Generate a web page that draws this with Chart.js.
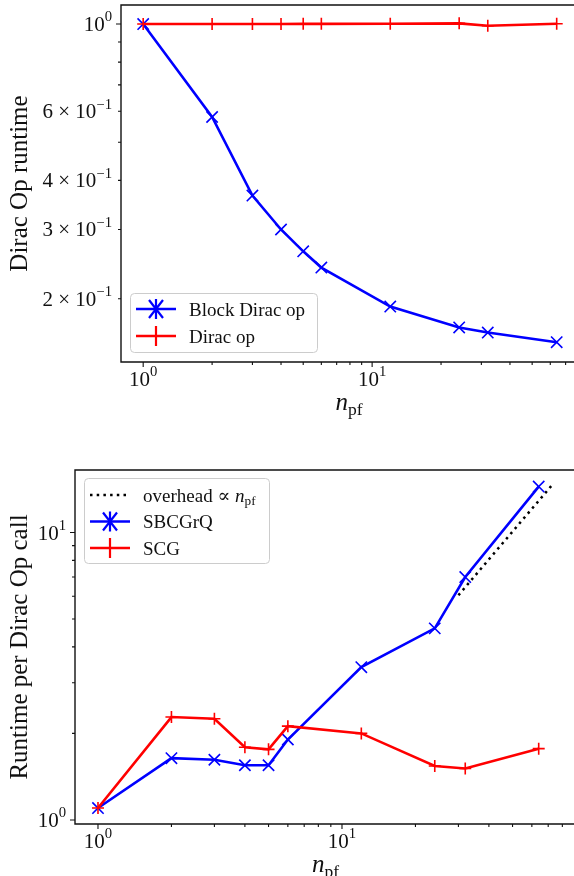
<!DOCTYPE html>
<html>
<head>
<meta charset="utf-8">
<script src="https://cdn.jsdelivr.net/npm/chart.js@4.4.1/dist/chart.umd.min.js"></script>
<style>
  html, body { margin: 0; padding: 0; background: #fff; }
  body { width: 574px; height: 876px; overflow: hidden; position: relative; }
  canvas { position: absolute; left: 0; }
  #topChart { top: 0; }
  #bottomChart { top: 440px; }
</style>
</head>
<body>
<canvas id="topChart" width="600" height="440"></canvas>
<canvas id="bottomChart" width="600" height="436"></canvas>
<script>
// ---- data ----
const nPf = [1, 2, 3, 4, 5, 6, 12, 24, 32, 64];

// top panel: Dirac op runtime (normalised)
const blockDiracOp = [1.0, 0.58, 0.366, 0.30, 0.264, 0.240, 0.191, 0.169, 0.164, 0.155];
const diracOp      = [1.0, 1.0, 1.0, 1.0, 1.001, 1.001, 1.002, 1.004, 0.99, 1.002];

// bottom panel: runtime per Dirac op call
const sbcgrq = [1.10, 1.64, 1.62, 1.55, 1.55, 1.905, 3.40, 4.64, 7.0, 14.45];
const scg    = [1.10, 2.28, 2.25, 1.79, 1.76, 2.12, 2.00, 1.54, 1.51, 1.77];
const overheadN   = [30, 72];
const overheadVal = [6.05, 14.5];

// ticks
const xMajorTicks = [1, 10];
const xMajorLabels = ['10^0', '10^1'];
const xMinorTicks = [2, 3, 4, 5, 6, 7, 8, 9, 20, 30, 40, 50, 60, 70, 80, 90];

const topYMajorTicks = [1];
const topYMinorTicks = [0.2, 0.3, 0.4, 0.5, 0.6, 0.7, 0.8, 0.9];
const topYLabelValues = [0.2, 0.3, 0.4, 0.6, 1];
const topYLabels = ['2 × 10^−1', '3 × 10^−1', '4 × 10^−1', '6 × 10^−1', '10^0'];

const botYMajorTicks = [1, 10];
const botYMinorTicks = [2, 3, 4, 5, 6, 7, 8, 9];
const botYLabelValues = [1, 10];
const botYLabels = ['10^0', '10^1'];

const FAM = '"Liberation Serif", "DejaVu Serif", serif';
const BLUE = '#0000ff', RED = '#ff0000';

function pts(xs, ys) { return xs.map((x, i) => ({ x: x, y: ys[i] })); }

// "6 × 10^−1" -> segments, superscript after ^
function parseSci(s) {
  const i = s.indexOf('^');
  if (i < 0) return [{ t: s }];
  return [{ t: s.slice(0, i) }, { t: s.slice(i + 1), sup: true }];
}

function segFont(seg, size) {
  const sz = (seg.sup || seg.sub) ? size * 0.7 : size;
  return (seg.it ? 'italic ' : '') + sz + 'px ' + FAM;
}

function drawRich(ctx, segs, x, y, align, size) {
  let total = 0;
  const widths = segs.map(s => { ctx.font = segFont(s, size); const w = ctx.measureText(s.t).width; total += w; return w; });
  let cx = align === 'center' ? x - total / 2 : align === 'right' ? x - total : x;
  ctx.textAlign = 'left';
  ctx.textBaseline = 'alphabetic';
  segs.forEach((s, i) => {
    ctx.font = segFont(s, size);
    let dy = 0;
    if (s.sup) dy = -0.46 * size;
    if (s.sub) dy = 0.2 * size;
    ctx.fillText(s.t, cx, y + dy);
    cx += widths[i];
  });
}

const NPF = [{ t: 'n', it: true }, { t: 'pf', sub: true }];

function framePlugin(cfg) {
  return {
    id: 'frame',
    afterDatasetsDraw(chart) {
      const ctx = chart.ctx;
      const a = chart.chartArea;
      const xs = chart.scales.x, ys = chart.scales.y;
      const W = chart.width;
      ctx.save();
      ctx.strokeStyle = '#111';
      ctx.fillStyle = '#111';
      ctx.lineWidth = 1.4;
      ctx.beginPath();
      ctx.moveTo(W, a.top); ctx.lineTo(a.left, a.top); ctx.lineTo(a.left, a.bottom); ctx.lineTo(W, a.bottom);
      ctx.stroke();

      ctx.lineWidth = 1.1;
      ctx.beginPath();
      xMajorTicks.forEach(v => { const p = xs.getPixelForValue(v); ctx.moveTo(p, a.bottom); ctx.lineTo(p, a.bottom + 5); });
      xMinorTicks.forEach(v => { if (v > xs.max) return; const p = xs.getPixelForValue(v); ctx.moveTo(p, a.bottom); ctx.lineTo(p, a.bottom + 3); });
      cfg.yMajor.forEach(v => { const p = ys.getPixelForValue(v); ctx.moveTo(a.left, p); ctx.lineTo(a.left - 5, p); });
      cfg.yMinor.forEach(v => { const p = ys.getPixelForValue(v); ctx.moveTo(a.left, p); ctx.lineTo(a.left - 3, p); });
      ctx.stroke();

      // tick labels
      xMajorTicks.forEach((v, i) => {
        drawRich(ctx, parseSci(xMajorLabels[i]), xs.getPixelForValue(v), a.bottom + 23.5, 'center', 21);
      });
      cfg.yLabelValues.forEach((v, i) => {
        drawRich(ctx, parseSci(cfg.yLabels[i]), a.left - 9, ys.getPixelForValue(v) + 7, 'right', 21);
      });

      // axis titles
      drawRich(ctx, NPF, (a.left + a.right) / 2, a.bottom + 48, 'center', 25);
      ctx.save();
      ctx.translate(27, (a.top + a.bottom) / 2);
      ctx.rotate(-Math.PI / 2);
      ctx.font = '25px ' + FAM;
      ctx.textAlign = 'center';
      ctx.textBaseline = 'alphabetic';
      ctx.fillText(cfg.yTitle, 0, 0);
      ctx.restore();

      // legend
      const L = cfg.legend;
      ctx.beginPath();
      ctx.roundRect(L.x + 0.5, L.y + 0.5, L.w, L.h, 4);
      ctx.fillStyle = 'rgba(255,255,255,0.8)';
      ctx.fill();
      ctx.strokeStyle = '#cccccc';
      ctx.lineWidth = 1;
      ctx.stroke();
      L.items.forEach((it, i) => {
        const ry = L.y + L.firstRow + i * L.rowGap;
        const hx0 = L.x + 6, hx1 = L.x + 46, hm = (hx0 + hx1) / 2;
        ctx.strokeStyle = it.color;
        ctx.lineWidth = 2.5;
        ctx.setLineDash(it.dash || []);
        ctx.beginPath(); ctx.moveTo(hx0, ry); ctx.lineTo(hx1, ry); ctx.stroke();
        ctx.setLineDash([]);
        ctx.lineWidth = 2.2;
        ctx.beginPath();
        if (it.marker === 'x') {
          ctx.moveTo(hm - 7, ry - 9); ctx.lineTo(hm + 7, ry + 9);
          ctx.moveTo(hm + 7, ry - 9); ctx.lineTo(hm - 7, ry + 9);
          ctx.moveTo(hm, ry - 10); ctx.lineTo(hm, ry + 10);
        } else if (it.marker === '+') {
          ctx.moveTo(hm, ry - 10); ctx.lineTo(hm, ry + 10);
        }
        ctx.stroke();
        ctx.fillStyle = '#111';
        drawRich(ctx, it.label, L.x + 59, ry + 6.5, 'left', 19);
      });
      ctx.restore();
    }
  };
}

function lineDs(label, xs, ys, color, style, radius, order) {
  return {
    label: label,
    data: pts(xs, ys),
    borderColor: color,
    backgroundColor: color,
    borderWidth: 2.6,
    pointStyle: style,
    pointRadius: radius,
    pointBorderWidth: 1.6,
    pointBorderColor: color,
    fill: false,
    tension: 0,
    order: order
  };
}

function baseOptions(padding, xRange, yRange) {
  return {
    responsive: false,
    animation: false,
    devicePixelRatio: 1,
    layout: { padding: padding, autoPadding: false },
    plugins: { legend: { display: false }, tooltip: { enabled: false } },
    scales: {
      x: { type: 'logarithmic', display: false, bounds: 'data', min: xRange[0], max: xRange[1] },
      y: { type: 'logarithmic', display: false, bounds: 'data', min: yRange[0], max: yRange[1] }
    }
  };
}

/* TOP PANEL */
new Chart(document.getElementById('topChart'), {
  type: 'line',
  data: {
    datasets: [
      lineDs('Block Dirac op', nPf, blockDiracOp, BLUE, 'crossRot', 8, 1),
      lineDs('Dirac op', nPf, diracOp, RED, 'cross', 6, 0)
    ]
  },
  options: baseOptions({ left: 121, top: 5, right: 23, bottom: 78 }, [0.80, 78.5], [0.138, 1.118]),
  plugins: [framePlugin({
    yMajor: topYMajorTicks, yMinor: topYMinorTicks,
    yLabelValues: topYLabelValues, yLabels: topYLabels,
    yTitle: 'Dirac Op runtime',
    legend: {
      x: 130, y: 293, w: 187, h: 59, firstRow: 16, rowGap: 27,
      items: [
        { label: [{ t: 'Block Dirac op' }], color: BLUE, marker: 'x' },
        { label: [{ t: 'Dirac op' }], color: RED, marker: '+' }
      ]
    }
  })]
});

/* BOTTOM PANEL */
new Chart(document.getElementById('bottomChart'), {
  type: 'line',
  data: {
    datasets: [
      {
        label: 'overhead',
        data: pts(overheadN, overheadVal),
        borderColor: '#000',
        borderWidth: 2.5,
        borderDash: [2.5, 4.2],
        pointRadius: 0,
        fill: false,
        order: 2
      },
      lineDs('SBCGrQ', nPf, sbcgrq, BLUE, 'crossRot', 8, 1),
      lineDs('SCG', nPf, scg, RED, 'cross', 6, 0)
    ]
  },
  options: baseOptions({ left: 75, top: 30, right: 24, bottom: 52 }, [0.805, 91], [0.968, 16.5]),
  plugins: [framePlugin({
    yMajor: botYMajorTicks, yMinor: botYMinorTicks,
    yLabelValues: botYLabelValues, yLabels: botYLabels,
    yTitle: 'Runtime per Dirac Op call',
    legend: {
      x: 84, y: 38, w: 185, h: 85, firstRow: 17, rowGap: 26.5,
      items: [
        { label: [{ t: 'overhead ∝ ' }, { t: 'n', it: true }, { t: 'pf', sub: true }], color: '#000', dash: [2.5, 4.2], marker: null },
        { label: [{ t: 'SBCGrQ' }], color: BLUE, marker: 'x' },
        { label: [{ t: 'SCG' }], color: RED, marker: '+' }
      ]
    }
  })]
});
</script>
</body>
</html>
